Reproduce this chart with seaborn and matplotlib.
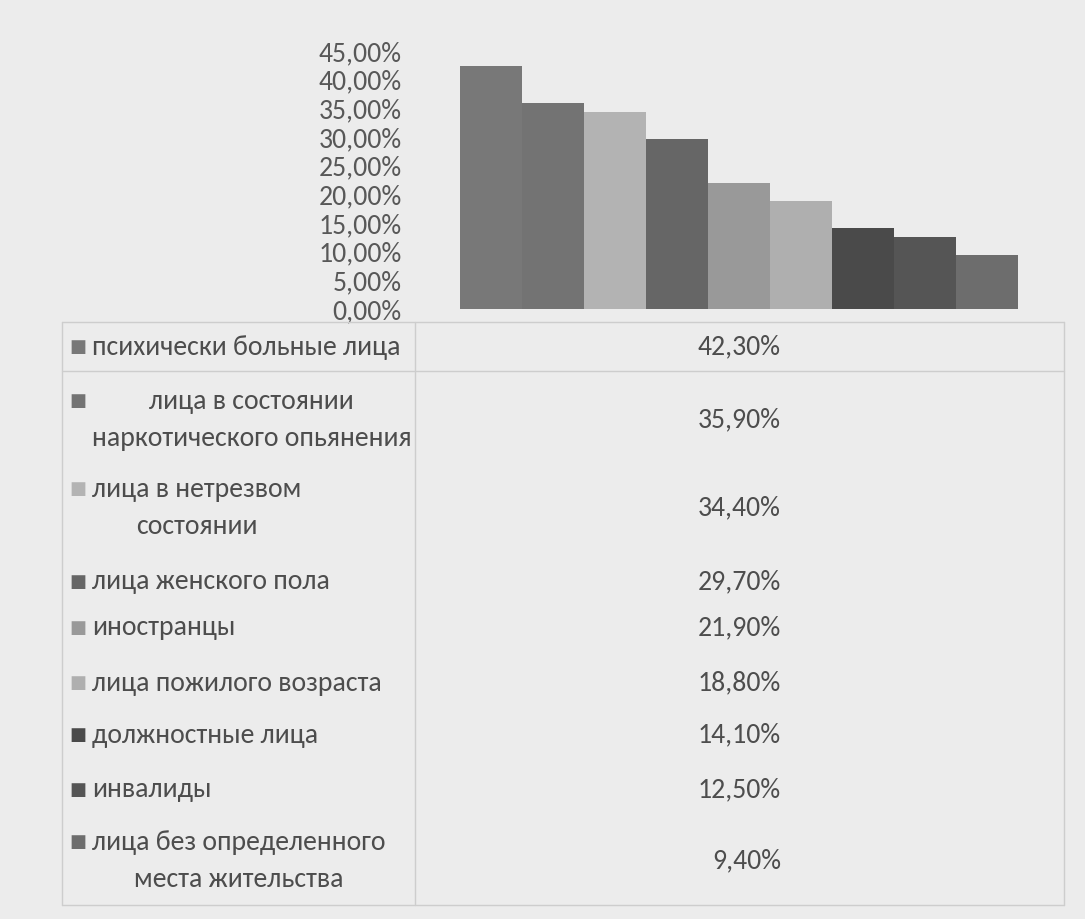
import matplotlib
matplotlib.use("Agg")
import matplotlib.pyplot as plt
import seaborn as sns
import pandas as pd
from matplotlib.lines import Line2D

categories = ["психически больные лица",
              "лица в состоянии\nнаркотического опьянения",
              "лица в нетрезвом\nсостоянии",
              "лица женского пола",
              "иностранцы",
              "лица пожилого возраста",
              "должностные лица",
              "инвалиды",
              "лица без определенного\nместа жительства"]
values = [42.3, 35.9, 34.4, 29.7, 21.9, 18.8, 14.1, 12.5, 9.4]
value_labels = ["42,30%", "35,90%", "34,40%", "29,70%", "21,90%",
                "18,80%", "14,10%", "12,50%", "9,40%"]
yticks = [0, 5, 10, 15, 20, 25, 30, 35, 40, 45]
colors = ["#787878", "#737373", "#b3b3b3", "#666666", "#999999",
          "#afafaf", "#4a4a4a", "#555555", "#6d6d6d"]

sns.set_style("white")
plt.rcParams['font.family'] = ['Carlito', 'DejaVu Sans']
bg = "#ececec"
txt = "#4d4d4d"

df = pd.DataFrame({"cat": categories, "val": values})

fig = plt.figure(figsize=(10.85, 9.19), dpi=100, facecolor=bg)
W, H = 1085, 919
ax = fig.add_axes([460 / W, 1 - 309 / H, (1018 - 460) / W, (309 - 51) / H])
ax.set_facecolor(bg)
sns.barplot(data=df, x="cat", y="val", hue="cat", palette=colors,
            width=1.0, legend=False, ax=ax, saturation=1, linewidth=0)
ax.set_ylim(0, 45)
ax.set_xlim(-0.5, len(values) - 0.5)
for s in ax.spines.values():
    s.set_visible(False)
ax.set_xticks([])
ax.set_xlabel("")
ax.set_ylabel("")
ax.set_yticks(yticks)
ax.set_yticklabels([f"{t:.2f}".replace(".", ",") + "%" for t in yticks],
                   fontsize=20, color="#585858")
ax.tick_params(axis="y", length=0, pad=42)

# data table under the chart
line_c = "#cdcdcd"
def hline(y, x0=62, x1=1064):
    fig.add_artist(Line2D([x0 / W, x1 / W], [1 - y / H, 1 - y / H], color=line_c, lw=1))
def vline(x, y0=322, y1=905):
    fig.add_artist(Line2D([x / W, x / W], [1 - y0 / H, 1 - y1 / H], color=line_c, lw=1))
hline(322)
hline(371)
hline(905)
vline(62)
vline(415)
vline(1064)

row_y = [347, 420, 508, 582, 628, 683, 735, 790, 861]
for lab, vl, c, y in zip(categories, value_labels, colors, row_y):
    nlines = lab.count("\n") + 1
    top_y = y - (nlines - 1) * 19
    fig.text(69 / W, 1 - top_y / H, "■", color=c, fontsize=13,
             family=['DejaVu Sans'], ha="left", va="center")
    fig.text(92 / W, 1 - y / H, lab, color=txt, fontsize=20, ha="left",
             va="center", multialignment="center", linespacing=1.6)
    fig.text(781 / W, 1 - y / H, vl, color=txt, fontsize=20, ha="right", va="center")

fig.savefig("out.png", dpi=100, facecolor=bg)
